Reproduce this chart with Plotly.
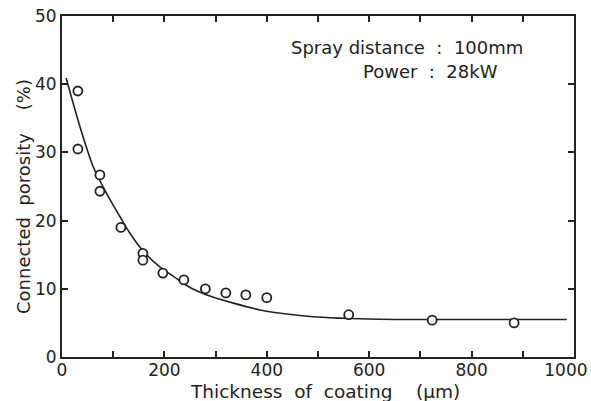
import plotly.graph_objects as go

# measured points
thickness = [31, 31, 74, 74, 115, 158, 158, 197, 238, 280, 320, 359, 400, 560, 723, 883]
porosity = [39.0, 30.5, 26.7, 24.3, 19.0, 15.2, 14.2, 12.3, 11.3, 10.0, 9.4, 9.1, 8.7, 6.2, 5.4, 5.0]

# fitted curve
curve_x = [8, 35, 61, 87, 113, 133, 160, 191, 224, 250, 283, 335, 387, 439, 490, 543, 582, 650, 750, 850, 986]
curve_y = [40.9, 33.8, 27.9, 24.0, 20.6, 18.1, 15.4, 13.2, 11.5, 10.2, 9.1, 7.9, 6.9, 6.3, 5.9, 5.7, 5.6, 5.5, 5.5, 5.5, 5.5]

x_ticks = [0, 200, 400, 600, 800, 1000]
x_tick_labels = ["0", "200", "400", "600", "800", "1000&nbsp;&nbsp;&nbsp;"]
y_ticks = [0, 10, 20, 30, 40, 50]
y_tick_labels = ["0", "10", "20", "30", "40", "50"]

FONT = "DejaVu Sans"
INK = "#222"

L, R, T, B = 62, 17, 16, 44
W, H = 591, 401
pw, ph = W - L - R, H - T - B


def px(x):
    return (x - L) / pw


def py(y):
    return (H - B - y) / ph


fig = go.Figure()
fig.add_trace(go.Scatter(x=curve_x, y=curve_y, mode="lines",
                         line=dict(color=INK, width=1.6, shape="spline", smoothing=0.8),
                         hoverinfo="skip", showlegend=False))
fig.add_trace(go.Scatter(x=thickness, y=porosity, mode="markers",
                         marker=dict(symbol="circle", size=9, color="white",
                                     line=dict(color=INK, width=1.8)),
                         showlegend=False))

fig.add_annotation(x=px(289), y=py(47), xref="paper", yref="paper", xanchor="left", yanchor="middle",
                   text="Spray distance  :  100mm", showarrow=False,
                   font=dict(family=FONT, size=18, color=INK))
fig.add_annotation(x=px(361), y=py(72), xref="paper", yref="paper", xanchor="left", yanchor="middle",
                   text="Power  :  28kW", showarrow=False,
                   font=dict(family=FONT, size=18, color=INK))

# axis titles as annotations for exact placement
fig.add_annotation(x=px(325), y=py(392), xref="paper", yref="paper", showarrow=False,
                   text="Thickness  of  coating    (µm)", xanchor="center", yanchor="middle",
                   font=dict(family=FONT, size=18.5, color=INK))
fig.add_annotation(x=px(23), y=py(197), xref="paper", yref="paper",
                   showarrow=False, textangle=-90, xanchor="center", yanchor="middle",
                   text="Connected  porosity    (%)",
                   font=dict(family=FONT, size=18, color=INK))

axis_common = dict(showline=True, linecolor=INK, linewidth=2, mirror="ticks",
                   ticks="inside", ticklen=6, tickwidth=1.5, tickcolor=INK,
                   showgrid=False, zeroline=False, automargin=False,
                   ticklabeloverflow="allow",
                   tickfont=dict(family=FONT, size=17, color=INK))

fig.update_xaxes(range=[0, 1000], tickvals=x_ticks, ticktext=x_tick_labels,
                 ticklabelstandoff=-3,
                 minor=dict(ticks="inside", ticklen=6, tickwidth=1.5, tickcolor=INK, dtick=100),
                 **axis_common)
fig.update_yaxes(range=[0, 50], tickvals=y_ticks, ticktext=y_tick_labels,
                 **axis_common)

fig.update_layout(width=W, height=H, margin=dict(l=L, r=R, t=T, b=B),
                  plot_bgcolor="white", paper_bgcolor="white")

fig.write_html("out.html")
